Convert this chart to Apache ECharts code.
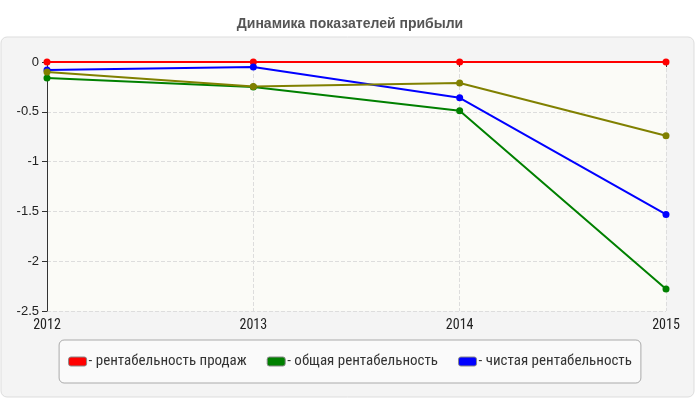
<!DOCTYPE html>
<html>
<head>
<meta charset="utf-8">
<script src="https://cdn.jsdelivr.net/npm/echarts@6/dist/echarts.min.js"></script>
<style>html,body{margin:0;padding:0;background:#fff;}#c{width:700px;height:400px;}</style>
</head>
<body>
<div id="c"></div>
<script>
const years = ['2012', '2013', '2014', '2015'];
const salesProfitability = [0, 0, 0, 0];
const totalProfitability = [-0.16, -0.25, -0.49, -2.28];
const netProfitability = [-0.08, -0.05, -0.36, -1.53];
const otherSeries = [-0.10, -0.245, -0.21, -0.74];
const seriesNames = ['рентабельность продаж', 'общая рентабельность', 'чистая рентабельность', 'прочее'];
const seriesColors = ['#ff0000', '#008000', '#0000ff', '#808000'];
const titleText = 'Динамика показателей прибыли';

const chart = echarts.init(document.getElementById('c'), null, {renderer: 'canvas'});
const values = [salesProfitability, totalProfitability, netProfitability, otherSeries];
const narrow = "'Liberation Sans Narrow', 'Arial Narrow', 'Roboto Condensed', Arial, sans-serif";

chart.setOption({
  animation: false,
  backgroundColor: '#ffffff',
  title: {
    text: titleText, left: 'center', top: 12,
    textStyle: {fontFamily: 'Arial, Liberation Sans, sans-serif', fontSize: 14, fontWeight: 'bold', color: '#555555'}
  },
  graphic: [{
    type: 'rect', z: -10, silent: true,
    shape: {x: 1, y: 37, width: 693, height: 360, r: 6},
    style: {fill: '#f4f4f4', stroke: '#dddddd', lineWidth: 1}
  }],
  grid: {
    left: 47, right: 34, top: 62, bottom: 89,
    show: true, backgroundColor: '#fbfbf7', borderWidth: 0
  },
  legend: {
    data: seriesNames.slice(0, 3),
    bottom: 17, left: 'center',
    padding: [14, 9, 14, 9],
    itemGap: 20,
    backgroundColor: '#fafafa', borderColor: '#aaaaaa', borderWidth: 1, borderRadius: 5,
    icon: 'roundRect', itemWidth: 18, itemHeight: 9,
    itemStyle: {borderColor: '#888888', borderWidth: 1},
    formatter: n => '- ' + n,
    textStyle: {fontFamily: narrow, fontSize: 15, color: '#333333', padding: [0, 0, 0, -3]}
  },
  xAxis: {
    type: 'category', data: years, boundaryGap: false,
    axisLine: {lineStyle: {color: '#333333', width: 1}},
    axisTick: {show: true, length: 5, lineStyle: {color: '#333333'}},
    axisLabel: {fontFamily: narrow, fontSize: 14, color: '#222222', margin: 7},
    splitLine: {show: true, lineStyle: {color: '#dddddd', type: 'dashed'}}
  },
  yAxis: {
    type: 'value', min: -2.5, max: 0, interval: 0.5,
    axisLine: {show: true, lineStyle: {color: '#333333', width: 1}},
    axisTick: {show: true, length: 5, lineStyle: {color: '#333333'}},
    axisLabel: {fontFamily: 'Arial, Liberation Sans, sans-serif', fontSize: 13, color: '#222222', margin: 8},
    splitLine: {show: true, lineStyle: {color: '#dddddd', type: 'dashed'}}
  },
  series: values.map((v, i) => ({
    name: seriesNames[i], type: 'line', data: v,
    symbol: 'circle', symbolSize: 7,
    lineStyle: {color: seriesColors[i], width: 2},
    itemStyle: {color: seriesColors[i]},
    z: 3 + i
  }))
});
</script>
</body>
</html>
